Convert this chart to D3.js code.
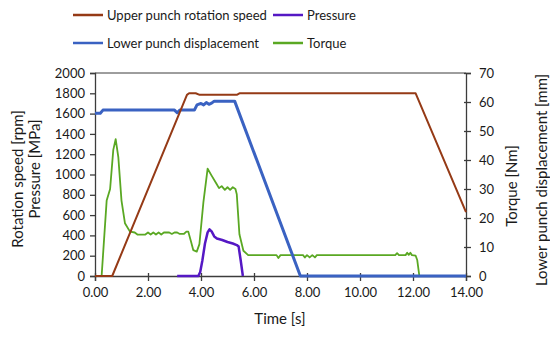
<!DOCTYPE html>
<html><head><meta charset="utf-8">
<script src="https://cdn.jsdelivr.net/npm/d3@7"></script>
<style>
body{margin:0;background:#fff;}
svg text{font-family:Lato,"Open Sans",sans-serif;fill:#1a1a1a;}
</style></head>
<body><svg id="c" width="550" height="339"></svg>
<script>
// ---- data ----
const xTicks = [0, 2, 4, 6, 8, 10, 12, 14];
const leftTicks = [0, 200, 400, 600, 800, 1000, 1200, 1400, 1600, 1800, 2000];
const rightTicks = [0, 10, 20, 30, 40, 50, 60, 70];
const seriesNames = ["Upper punch rotation speed", "Pressure", "Lower punch displacement", "Torque"];
const seriesColors = ["#953a16", "#5518c4", "#3a62c2", "#5aa823"];

// rotation speed [rpm] (left axis): [time s, value]
const speedData = [[0,0],[0.65,0],[3.47,1785],[3.55,1800],[3.8,1800],[3.95,1785],[5.35,1785],[5.45,1800],[12.1,1800],[14.0,630]];
// pressure [MPa] (left axis)
const pressureData = [[3.1,0],[3.9,0],[3.97,40],[4.05,150],[4.15,320],[4.25,430],[4.32,460],[4.4,440],[4.5,390],[4.6,370],[4.8,355],[5.0,335],[5.2,320],[5.35,305],[5.42,290],[5.5,150],[5.58,0]];
// lower punch displacement [mm] (right axis)
const displacementData = [[0,56.1],[0.2,56.1],[0.3,57.2],[3.0,57.2],[3.1,56.3],[3.2,57.2],[3.75,57.2],[3.85,59.0],[4.0,59.5],[4.1,59.0],[4.2,59.8],[4.3,59.2],[4.4,59.6],[4.5,60.3],[5.27,60.3],[7.75,0],[14,0]];
// torque [Nm] (right axis)
const torqueData = [[0,0],[0.25,0],[0.44,26],[0.57,30],[0.69,43.5],[0.78,47.2],[0.88,41],[1.0,26],[1.13,18.2],[1.32,15.3],[1.5,15],[1.6,14.3],[1.9,14.3],[2.0,15],[2.1,14.3],[2.2,15],[2.3,14.3],[2.4,15],[2.5,14.3],[2.6,15],[2.8,15],[2.9,14.5],[3.0,15],[3.1,15],[3.2,14.5],[3.35,14.5],[3.45,15.3],[3.52,15.3],[3.62,12],[3.71,8.9],[3.84,8.4],[3.94,11],[4.09,25.4],[4.25,37],[4.4,34.6],[4.59,31.7],[4.68,30.3],[4.78,31],[4.9,29.7],[5.0,30.6],[5.1,29.7],[5.2,30.6],[5.3,30],[5.35,28.2],[5.45,14.4],[5.6,8.7],[5.78,7.2],[6.85,7.2],[6.92,6.2],[7.0,7.2],[7.85,7.2],[7.92,6.4],[8.0,7.2],[8.1,6.4],[8.2,7.2],[8.3,6.4],[8.37,7.2],[11.33,7.2],[11.4,7.9],[11.47,7.2],[11.72,7.2],[11.78,8.0],[11.84,7.3],[11.9,8.0],[11.96,7.2],[12.1,7.0],[12.16,5.5],[12.24,0],[14,0]];

// ---- layout ----
const svg = d3.select("#c");
const m = {l:95, r:466, t:73, b:276};
const x = d3.scaleLinear().domain([0,14]).range([m.l, m.r]);
const yL = d3.scaleLinear().domain([0,2000]).range([m.b, m.t]);
const yR = d3.scaleLinear().domain([0,70]).range([m.b, m.t]);
const axisColor = "#3c3c3c";
const FONT = "Lato, Open Sans, sans-serif";

// top border
svg.append("line").attr("x1",m.l).attr("x2",m.r).attr("y1",m.t).attr("y2",m.t).attr("stroke",axisColor).attr("stroke-width",1);

const fs = "13px";
const gL = svg.append("g").attr("transform",`translate(${m.l},0)`)
  .call(d3.axisLeft(yL).tickValues(leftTicks).tickFormat(d3.format("d")).tickSize(5).tickPadding(5));
const gR = svg.append("g").attr("transform",`translate(${m.r},0)`)
  .call(d3.axisRight(yR).tickValues(rightTicks).tickSize(5).tickPadding(8));
const gB = svg.append("g").attr("transform",`translate(0,${m.b})`)
  .call(d3.axisBottom(x).tickValues(xTicks).tickFormat(d3.format(".2f")).tickSize(5).tickPadding(7));
[gL,gR,gB].forEach(g=>{
  g.select(".domain").attr("stroke",axisColor).attr("stroke-width",1.3);
  g.selectAll(".tick line").attr("stroke",axisColor).attr("stroke-width",1.3);
  g.selectAll(".tick text").attr("font-size",fs).attr("font-family",FONT).attr("fill","#1a1a1a");
});
gB.selectAll(".tick line").attr("y1",-3);
gR.selectAll(".tick line").attr("x1",-2);

// lines
const lineL = d3.line().x(d=>x(d[0])).y(d=>yL(d[1]));
const lineR = d3.line().x(d=>x(d[0])).y(d=>yR(d[1]));
const plot = svg.append("g");
plot.append("path").datum(torqueData).attr("d",lineR).attr("fill","none").attr("stroke",seriesColors[3]).attr("stroke-width",1.8).attr("stroke-linejoin","round");
plot.append("path").datum(displacementData).attr("d",lineR).attr("fill","none").attr("stroke",seriesColors[2]).attr("stroke-width",3).attr("stroke-linejoin","round");
plot.append("path").datum(speedData).attr("d",lineL).attr("fill","none").attr("stroke",seriesColors[0]).attr("stroke-width",2).attr("stroke-linejoin","round");
plot.append("path").datum(pressureData).attr("d",lineL).attr("fill","none").attr("stroke",seriesColors[1]).attr("stroke-width",2.5).attr("stroke-linejoin","round");

// axis titles
const tfs = "15px";
svg.append("text").attr("transform","translate(23,179) rotate(-90)").attr("text-anchor","middle").attr("font-size",tfs).text("Rotation speed [rpm]");
svg.append("text").attr("transform","translate(40,169) rotate(-90)").attr("text-anchor","middle").attr("font-size",tfs).text("Pressure [MPa]");
svg.append("text").attr("transform","translate(517,186) rotate(-90)").attr("text-anchor","middle").attr("font-size",tfs).text("Torque [Nm]");
svg.append("text").attr("transform","translate(547,180) rotate(-90)").attr("text-anchor","middle").attr("font-size",tfs).text("Lower punch displacement [mm]");
svg.append("text").attr("x",280).attr("y",324).attr("text-anchor","middle").attr("font-size",tfs).text("Time [s]");

// legend
const legPos = [[73,15],[273,15],[73,43],[273,43]];
seriesNames.forEach((n,i)=>{
  const [lx,ly] = legPos[i];
  svg.append("line").attr("x1",lx).attr("x2",lx+30).attr("y1",ly).attr("y2",ly).attr("stroke",seriesColors[i]).attr("stroke-width",2.5);
  svg.append("text").attr("x",lx+34).attr("y",ly).attr("dy","0.35em").attr("font-size","13px").text(n);
});
</script></body></html>
